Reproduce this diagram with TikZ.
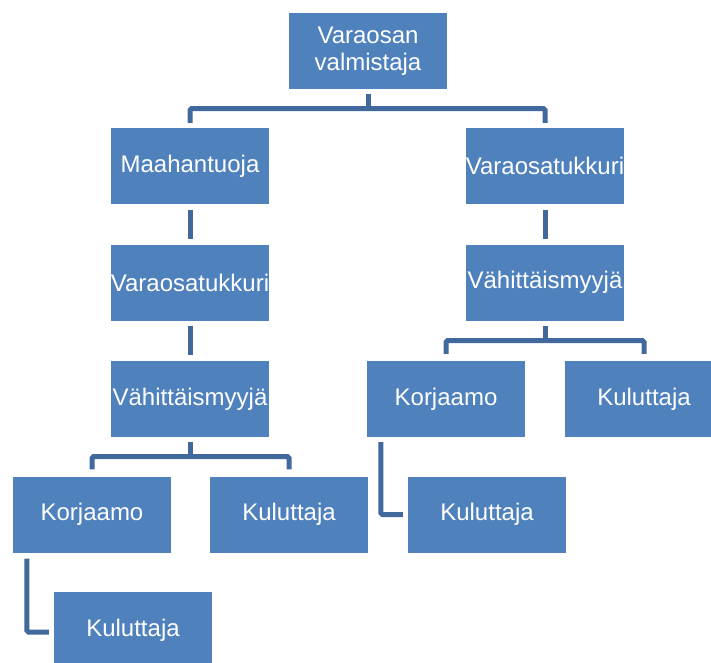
\documentclass[tikz,border=0pt]{standalone}
\usepackage{fontspec}
\setmainfont{Liberation Sans}
\usetikzlibrary{calc}
\definecolor{boxblue}{HTML}{4F81BD}
\definecolor{linkblue}{HTML}{41699E}
\begin{document}
\begin{tikzpicture}[x=1pt,y=-1pt,
  box/.style={fill=boxblue,draw=none,minimum width=158pt,minimum height=76pt,inner sep=0pt,
    text=white,font=\fontsize{24}{27}\selectfont,align=center},
  conn/.style={draw=linkblue,line width=5pt,rounded corners=1.5pt}]
\useasboundingbox (0,0) rectangle (711,662);
\node[box] (top)   at (368,51)    {Varaosan\\valmistaja};
\node[box] (maah)  at (190,166)   {Maahantuoja};
\node[box] (vtR)   at (545,166)   {Varaosatukkuri};
\node[box] (vtL)   at (190,282.5) {Varaosatukkuri};
\node[box] (vmR)   at (545,282.5) {Vähittäismyyjä};
\node[box] (vmL)   at (190,399)   {Vähittäismyyjä};
\node[box] (korR)  at (446,399)   {Korjaamo};
\node[box] (kulR1) at (644,399)   {Kuluttaja};
\node[box] (korL)  at (92,514.5)  {Korjaamo};
\node[box] (kulL)  at (289,514.5) {Kuluttaja};
\node[box] (kulR2) at (487,514.5) {Kuluttaja};
\node[box] (kulB)  at (133,630)   {Kuluttaja};
% top split
\coordinate (b1) at ($(top.south)+(0,19.5)$);
\draw[conn] ($(top.south)+(0,5)$) -- (b1);
\draw[conn] ($(maah.north)+(0,-5)$) |- (b1) -| ($(vtR.north)+(0,-5)$);
% chains
\draw[conn] ($(maah.south)+(0,6)$) -- ($(vtL.north)+(0,-5)$);
\draw[conn] ($(vtR.south)+(0,6)$) -- ($(vmR.north)+(0,-5)$);
\draw[conn] ($(vtL.south)+(0,5)$) -- ($(vmL.north)+(0,-6)$);
% left split
\coordinate (b2) at ($(vmL.south)+(0,19.5)$);
\draw[conn] ($(vmL.south)+(0,5)$) -- (b2);
\draw[conn] ($(korL.north)+(0,-7)$) |- (b2) -| ($(kulL.north)+(0,-7)$);
% right split
\coordinate (b3) at ($(vmR.south)+(0,20)$);
\draw[conn] ($(vmR.south)+(0,5)$) -- (b3);
\draw[conn] ($(korR.north)+(0,-7)$) |- (b3) -| ($(kulR1.north)+(0,-7)$);
% elbows
\coordinate (e1) at ($(korR.south west)+(14,5)$);
\draw[conn] (e1) |- ($(kulR2.west)+(-5,0)$);
\coordinate (e2) at ($(korL.south west)+(14,6)$);
\draw[conn] (e2) |- ($(kulB.west)+(-5,2)$);
\end{tikzpicture}
\end{document}
